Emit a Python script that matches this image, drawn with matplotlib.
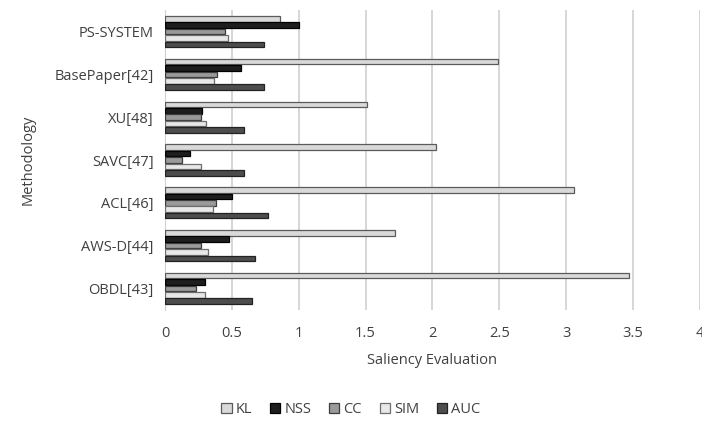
import numpy as np
import matplotlib.pyplot as plt

plt.rcParams['font.family'] = ['Open Sans', 'DejaVu Sans']

# methods, bottom to top as drawn
methods = ["OBDL[43]", "AWS-D[44]", "ACL[46]", "SAVC[47]", "XU[48]", "BasePaper[42]", "PS-SYSTEM"]
series = ["KL", "NSS", "CC", "SIM", "AUC"]

kl  = [3.47, 1.72, 3.06, 2.03, 1.51, 2.49, 0.86]
nss = [0.30, 0.48, 0.50, 0.19, 0.28, 0.57, 1.00]
cc  = [0.23, 0.27, 0.38, 0.13, 0.27, 0.39, 0.45]
sim = [0.30, 0.32, 0.36, 0.27, 0.31, 0.37, 0.47]
auc = [0.65, 0.67, 0.77, 0.59, 0.59, 0.74, 0.74]

values = [kl, nss, cc, sim, auc]
colors = ["#d9d9d9", "#1e1e1e", "#9a9a9a", "#e8e8e8", "#4d4d4d"]
edges = ["#5a5a5a", "#000000", "#3c3c3c", "#6e6e6e", "#222222"]

fig = plt.figure(figsize=(7.02, 4.25), dpi=100)
ax = fig.add_axes([0.235, 0.271, 0.762, 0.705])

y = np.arange(len(methods))
step = 0.15
h = 0.13
for i, (name, vals) in enumerate(zip(series, values)):
    off = (2 - i) * step  # KL on top of each group
    ax.barh(y + off, vals, height=h, color=colors[i], edgecolor=edges[i],
            linewidth=0.9, label=name, zorder=3)

ax.set_xlim(0, 4)
ax.set_ylim(-0.5, len(methods) - 0.5)
ax.set_xticks(np.arange(0, 4.01, 0.5))
ax.set_xticklabels(["0", "0.5", "1", "1.5", "2", "2.5", "3", "3.5", "4"])
ax.set_yticks(y)
ax.set_yticklabels(methods)
ax.xaxis.grid(True, color="#d0d0d0", linewidth=1.2, zorder=0)
for s in ["top", "right", "bottom"]:
    ax.spines[s].set_visible(False)
ax.spines["left"].set_color("#d0d0d0")
ax.tick_params(axis="both", length=0, labelsize=10.5, colors="#404040", pad=8)
ax.tick_params(axis="x", pad=12)

ax.set_xlabel("Saliency Evaluation", fontsize=10.5, color="#404040", labelpad=8)
ax.set_ylabel("Methodology", fontsize=10.5, color="#404040", labelpad=14)

fig.legend(loc="lower center", bbox_to_anchor=(0.5, -0.012), ncol=5, frameon=False,
           fontsize=10.5, labelcolor="#404040", handlelength=0.7, handleheight=0.7,
           handletextpad=0.3, columnspacing=1.2)

fig.savefig("out.png", dpi=100)
